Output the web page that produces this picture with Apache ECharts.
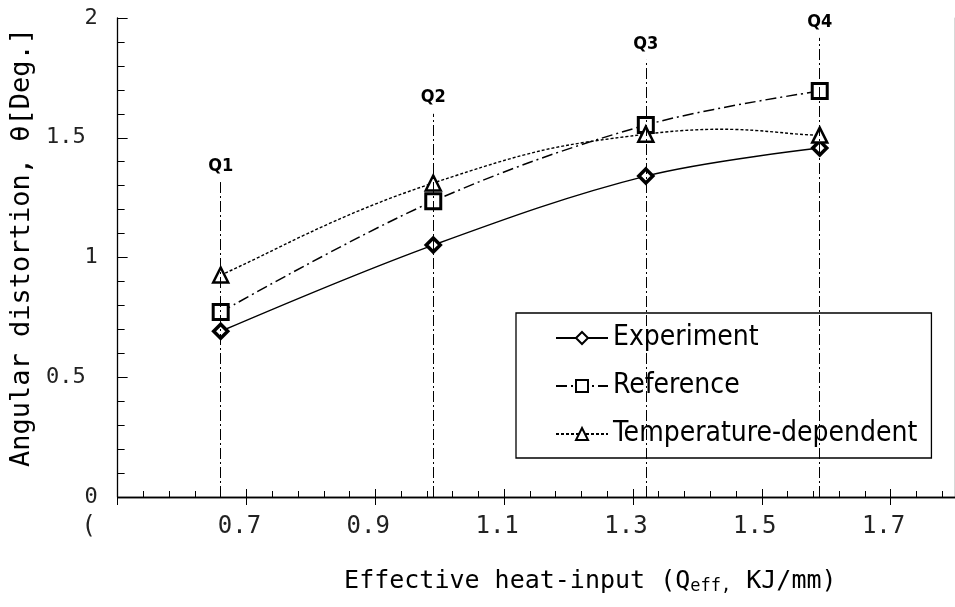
<!DOCTYPE html>
<html>
<head>
<meta charset="utf-8">
<script src="https://cdn.jsdelivr.net/npm/echarts@6/dist/echarts.min.js"></script>
<style>
  html, body { margin: 0; padding: 0; background: #fff; }
  #chart { width: 955px; height: 607px; }
</style>
</head>
<body>
<div id="chart"></div>
<script>
// heat input of the four welding conditions
const heatInput = [0.66, 0.99, 1.32, 1.59]
const qNames = ['Q1', 'Q2', 'Q3', 'Q4']
// how high the guide line for each Q goes
const qTop = [1.315, 1.6, 1.825, 1.917]

const experiment = [0.692, 1.052, 1.34, 1.457]
const reference = [0.772, 1.235, 1.553, 1.695]
const tempDependent = [0.927, 1.311, 1.515, 1.511]

const seriesNames = ['Experiment', 'Reference', 'Temperature-dependent']

const pairs = (ys) => heatInput.map((x, i) => [x, ys[i]])

const chart = echarts.init(document.getElementById('chart'))

const mono = 'DejaVu Sans Mono'
const axisCommon = {
  type: 'value',
  axisLine: { show: true, lineStyle: { color: '#000', width: 1.3 } },
  splitLine: { show: false }
}

// catmull-rom style curve through pixel points (echarts clamps its own smoothing,
// the original curve overshoots a little between Q3 and Q4)
const splinePath = (pts, k) => {
  let d = 'M' + pts[0][0] + ' ' + pts[0][1]
  for (let i = 0; i < pts.length - 1; i++) {
    const p0 = pts[i - 1] || pts[i]
    const p1 = pts[i]
    const p2 = pts[i + 1]
    const p3 = pts[i + 2] || pts[i + 1]
    const c1x = p1[0] + (p2[0] - p0[0]) * k
    const c1y = p1[1] + (p2[1] - p0[1]) * k
    const c2x = p2[0] - (p3[0] - p1[0]) * k
    const c2y = p2[1] - (p3[1] - p1[1]) * k
    d += ' C' + c1x + ' ' + c1y + ' ' + c2x + ' ' + c2y + ' ' + p2[0] + ' ' + p2[1]
  }
  return d
}

let option = {
  backgroundColor: '#fff',
  animation: false,
  grid: { left: 115, top: 18, width: 842, height: 479 },
  legend: {
    orient: 'vertical',
    left: 516,
    top: 313,
    data: [
      { name: seriesNames[0] },
      { name: seriesNames[1] },
      { name: seriesNames[2], lineStyle: { opacity: 1 } }
    ],
    backgroundColor: '#fff',
    borderColor: '#000',
    borderWidth: 1.3,
    borderRadius: 0,
    padding: [10, 14, 9, 39],
    itemWidth: 52,
    itemHeight: 15,
    itemGap: 18,
    textStyle: { fontFamily: 'DejaVu Sans Condensed', fontSize: 28, lineHeight: 30, color: '#000' }
  },
  xAxis: [
    Object.assign({}, axisCommon, {
      min: 0.5, max: 1.8, interval: 0.2,
      position: 'bottom',
      axisTick: { show: true, inside: true, length: 8, lineStyle: { color: '#000' } },
      minorTick: { show: true, splitNumber: 5, length: 6, lineStyle: { color: '#000' } },
      axisLabel: {
        margin: 18,
        showMaxLabel: false,
        fontFamily: mono, fontSize: 24, color: '#222',
        padding: [0, 14, 0, 0],
        formatter: (v) => Math.abs(v - 0.5) < 1e-6 ? '{cut|(}' : v.toFixed(1),
        rich: { cut: { fontFamily: mono, fontSize: 24, color: '#222', padding: [0, 44, 0, 0] } }
      },
      name: 'Effective heat-input (Q{sub|eff,} KJ/mm)',
      nameLocation: 'middle',
      nameGap: 71,
      nameTextStyle: {
        fontFamily: mono, fontSize: 25, color: '#000',
        padding: [0, 0, 0, 108],
        rich: { sub: { fontFamily: mono, fontSize: 17, color: '#000', padding: [10, 0, 0, 0] } }
      }
    }),
    Object.assign({}, axisCommon, {
      min: 0.5, max: 1.8, interval: 0.2,
      position: 'bottom',
      axisTick: { show: true, inside: false, length: 8, lineStyle: { color: '#000' } },
      axisLabel: { show: false }
    })
  ],
  yAxis: [
    Object.assign({}, axisCommon, {
      min: 0, max: 2, interval: 0.5,
      axisTick: { show: true, inside: true, length: 10, lineStyle: { color: '#000' } },
      minorTick: { show: true, splitNumber: 5, length: 7, lineStyle: { color: '#000' } },
      axisLabel: {
        margin: 20,
        fontFamily: mono, fontSize: 22, color: '#222',
        formatter: (v) => v % 1 === 0 ? String(v) : '{h|' + v + '}',
        rich: { h: { fontFamily: mono, fontSize: 22, color: '#222', padding: [0, 12, 0, 0] } }
      },
      name: 'Angular distortion, θ[Deg.]',
      nameLocation: 'middle',
      nameGap: 80,
      nameTextStyle: { fontFamily: mono, fontSize: 27, color: '#000', padding: [0, 0, 0, 20] }
    }),
    Object.assign({}, axisCommon, {
      min: 0, max: 2, interval: 0.5,
      axisTick: { show: true, inside: false, length: 5, lineStyle: { color: '#000' } },
      axisLabel: { show: false }
    })
  ],
  series: [
    {
      // guide lines Q1..Q4
      name: 'guides',
      type: 'line',
      data: [],
      silent: true,
      z: 1,
      markLine: {
        symbol: 'none',
        silent: true,
        lineStyle: { color: '#000', width: 1, type: [11, 3, 2, 3] },
        label: {
          show: true, position: 'end', distance: 7,
          formatter: '{b}',
          fontFamily: 'DejaVu Sans Condensed', fontWeight: 'bold', fontSize: 18, color: '#000'
        },
        data: heatInput.map((x, i) => [
          { name: qNames[i], coord: [x, 0] },
          { coord: [x, qTop[i]] }
        ])
      }
    },
    {
      name: seriesNames[0],
      type: 'line',
      data: pairs(experiment),
      smooth: 0.35,
      z: 3,
      symbol: 'diamond',
      symbolSize: 14,
      itemStyle: { color: '#fff', borderColor: '#000', borderWidth: 3.5 },
      lineStyle: { color: '#000', width: 1.4, type: 'solid' }
    },
    {
      name: seriesNames[1],
      type: 'line',
      data: pairs(reference),
      smooth: 0.35,
      z: 3,
      symbol: 'rect',
      symbolSize: 15,
      itemStyle: { color: '#fff', borderColor: '#000', borderWidth: 3 },
      lineStyle: { color: '#000', width: 1.5, type: [11, 4, 2, 4] }
    },
    {
      // markers only, the curve comes from the custom series below
      name: seriesNames[2],
      type: 'line',
      data: pairs(tempDependent),
      z: 4,
      symbol: 'triangle',
      symbolSize: 15,
      itemStyle: { color: '#fff', borderColor: '#000', borderWidth: 2.5 },
      lineStyle: { color: '#000', width: 1.4, type: [3, 2], opacity: 0 }
    },
    {
      name: 'tempCurve',
      type: 'custom',
      silent: true,
      z: 2,
      data: pairs(tempDependent),
      renderItem: (params, api) => {
        if (params.dataIndex !== 0) return null
        const pts = heatInput.map((x, i) => api.coord([x, tempDependent[i]]))
        return {
          type: 'path',
          shape: { pathData: splinePath(pts, 0.24) },
          style: { fill: 'none', stroke: '#000', lineWidth: 1.4, lineDash: [3, 2] }
        }
      }
    }
  ]
}

option && chart.setOption(option)
</script>
</body>
</html>
